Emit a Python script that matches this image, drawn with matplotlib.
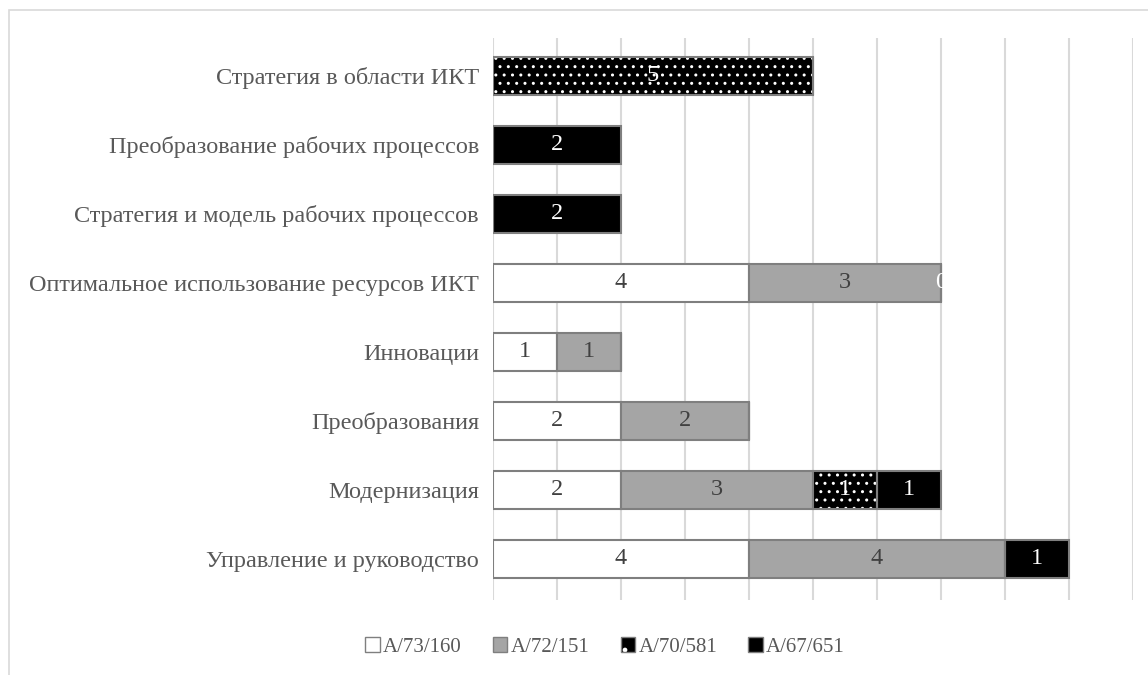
import matplotlib.pyplot as plt
from matplotlib.patches import Patch, Rectangle
import numpy as np

plt.rcParams['font.family'] = ['Liberation Serif', 'DejaVu Serif']
plt.rcParams['hatch.linewidth'] = 1.0

categories = [
    'Стратегия в области ИКТ',
    'Преобразование рабочих процессов',
    'Стратегия и модель рабочих процессов',
    'Оптимальное использование ресурсов ИКТ',
    'Инновации',
    'Преобразования',
    'Модернизация',
    'Управление и руководство',
]
series_names = ['A/73/160', 'A/72/151', 'A/70/581', 'A/67/651']
# None = empty cell (no bar, no label)
a73_160 = [None, None, None, 4, 1, 2, 2, 4]
a72_151 = [None, None, None, 3, 1, 2, 3, 4]
a70_581 = [5, None, None, 0, None, None, 1, None]
a67_651 = [None, 2, 2, None, None, None, 1, 1]

series = [a73_160, a72_151, a70_581, a67_651]
faces = ['white', '#a5a5a5', 'black', 'black']
label_colors = ['#404040', '#404040', 'white', 'white']
edge = '#7f7f7f'
text_gray = '#595959'
fs = 17.5

fig = plt.figure(figsize=(11.48, 6.75), dpi=100)
ax = fig.add_axes([493 / 1148, 1 - 600 / 675, 640 / 1148, 562 / 675])

y = np.arange(len(categories))
left = np.zeros(len(categories))
h = 0.55
for k, vals in enumerate(series):
    v = np.array([0 if x is None else x for x in vals], dtype=float)
    if k == 2:
        ax.barh(y, v, h, left=left, color='black', edgecolor='white',
                hatch='..', linewidth=0, zorder=3)
        ax.barh(y, v, h, left=left, color='none', edgecolor=edge,
                linewidth=1.5, zorder=4)
    else:
        ax.barh(y, v, h, left=left, color=faces[k],
                edgecolor=edge, linewidth=1.5, zorder=3)
    for i, x in enumerate(vals):
        if x is None:
            continue
        ax.text(left[i] + x / 2, y[i], str(x),
                ha='center', va='center', fontsize=fs,
                color=label_colors[k], zorder=5)
    left += v

ax.set_xlim(0, 10)
ax.set_ylim(7.6, -0.55)
ax.set_xticks(np.arange(0, 11))
ax.set_xticklabels([])
ax.tick_params(axis='x', length=0)
ax.grid(axis='x', color='#d9d9d9', linewidth=1.5, zorder=0)
ax.set_axisbelow(True)
ax.set_yticks(y)
ax.set_yticklabels(categories, fontsize=fs, color=text_gray)
ax.tick_params(axis='y', length=0, pad=10)
for s in ax.spines.values():
    s.set_visible(False)

handles = [
    Patch(facecolor='white', edgecolor=edge, linewidth=1),
    Patch(facecolor='#a5a5a5', edgecolor=edge, linewidth=1),
    (Patch(facecolor='black', edgecolor='white', hatch='.', linewidth=0),
     Patch(facecolor='none', edgecolor=edge, linewidth=1)),
    Patch(facecolor='black', edgecolor=edge, linewidth=1),
]
fig.legend(handles, series_names, loc='center', bbox_to_anchor=(605 / 1148, 1 - 647 / 675),
           ncol=4, frameon=False, fontsize=15, labelcolor=text_gray,
           handlelength=0.7, handleheight=0.7, handletextpad=0.15, columnspacing=1.5)

fig.patches.append(Rectangle((9 / 1148, -0.1), 1.2, 1 - 10 / 675 + 0.1,
                             transform=fig.transFigure, fill=False,
                             edgecolor='#d9d9d9', linewidth=1.2))

fig.savefig('out.png', dpi=100)
